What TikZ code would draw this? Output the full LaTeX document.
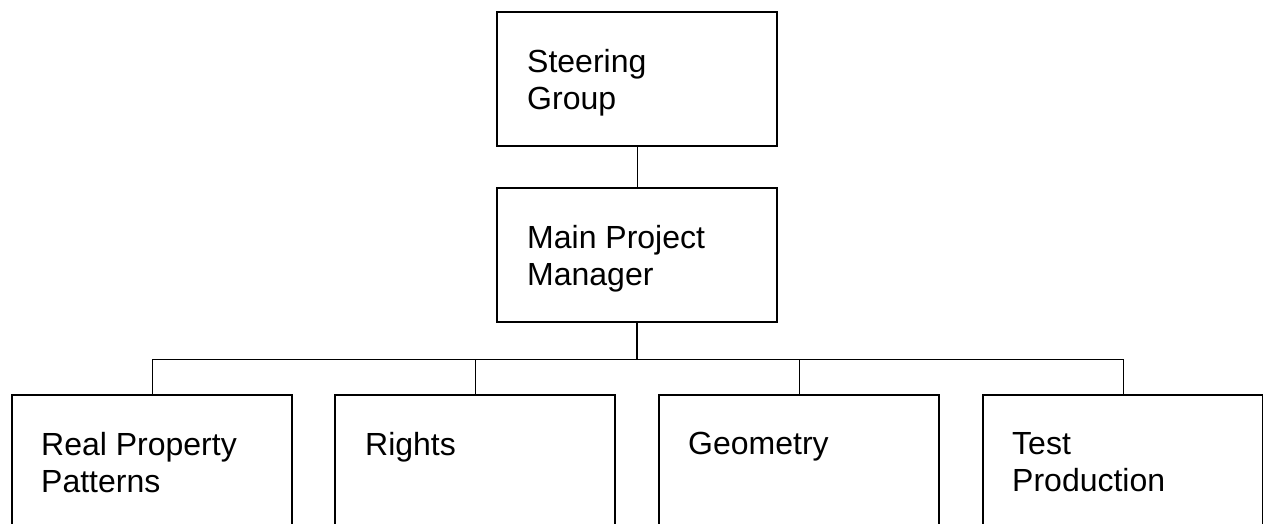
\documentclass[tikz,border=0pt]{standalone}
\usepackage{fontspec}
\setmainfont{Liberation Sans}
\begin{document}
\begin{tikzpicture}[x=1pt,y=-1pt,
  orgbox/.style={draw=black,line width=1.6pt,rectangle,anchor=north west,
    minimum width=280pt,minimum height=134pt,inner sep=0pt,outer sep=0pt},
  orglabel/.style={anchor=north west,inner sep=0pt,align=left,
    font=\fontsize{32}{37.5}\selectfont},
  link/.style={draw=black,line width=1pt}]
\useasboundingbox (0,0) rectangle (1263,524);
\clip (0,0) rectangle (1263,524);
\node[orgbox] (sg) at (497,12) {};
\node[orgbox] (mpm) at (497,188) {};
\node[orgbox] (rpp) at (12,395) {};
\node[orgbox] (rig) at (335,395) {};
\node[orgbox] (geo) at (659,395) {};
\node[orgbox] (tp) at (983,395) {};
\node[orglabel] (sgt) at ([shift={(30,37)}]sg.north west) {Steering\\Group};
\node[orglabel] (mpmt) at ([shift={(30,37)}]mpm.north west) {Main Project\\Manager};
\node[orglabel] (rppt) at ([shift={(29,37)}]rpp.north west) {Real Property\\Patterns};
\node[orglabel] (rigt) at ([shift={(30,37)}]rig.north west) {Rights};
\node[orglabel] (geot) at ([shift={(29,37)}]geo.north west) {Geometry};
\node[orglabel] (tpt) at ([shift={(29,37)}]tp.north west) {Test\\Production};
\coordinate (bar) at (637,359);
\draw[link] (sg.south) -- (mpm.north);
\draw[link,line width=1.5pt] (mpm.south) -- (bar);
\draw[link] (bar) -| (rpp.north);
\draw[link] (bar) -| (rig.north);
\draw[link] (bar) -| (geo.north);
\draw[link] (bar) -| (tp.north);
\end{tikzpicture}
\end{document}
